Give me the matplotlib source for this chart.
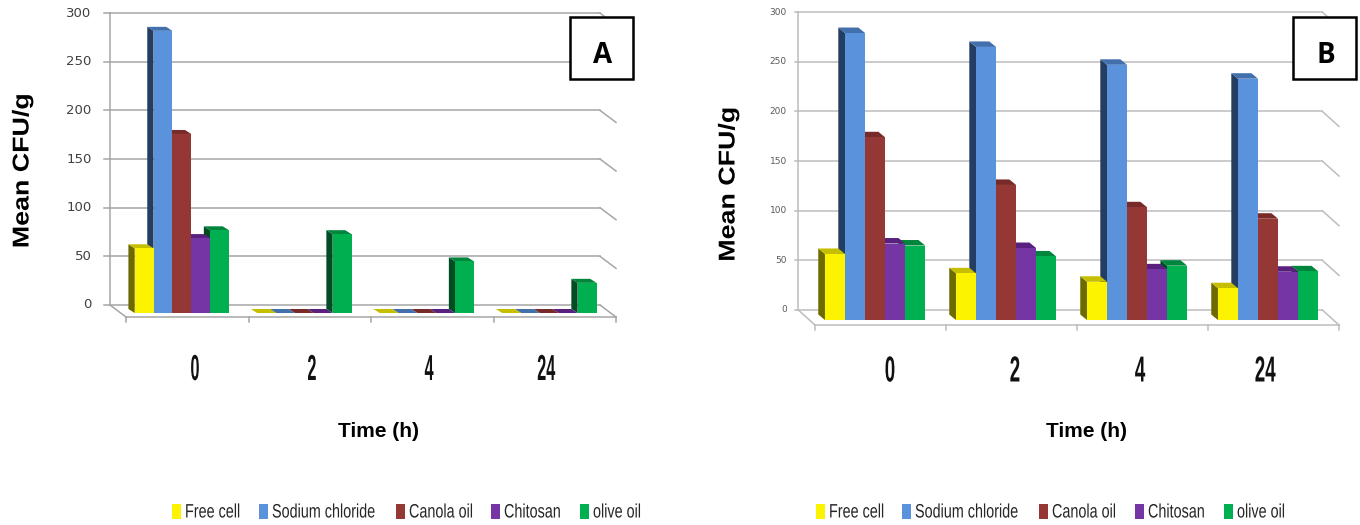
import matplotlib
matplotlib.use('Agg')
import matplotlib.pyplot as plt
from matplotlib.patches import Rectangle
from matplotlib.patheffects import AbstractPathEffect
from matplotlib.transforms import Affine2D, offset_copy

hours = ['0', '2', '4', '24']
series = ['Free cell', 'Sodium chloride', 'Canola oil', 'Chitosan', 'olive oil']
y_ticks = [0, 50, 100, 150, 200, 250, 300]

free_a = [66.5, 0, 0, 0]
sodium_a = [290, 0, 0, 0]
canola_a = [184, 0, 0, 0]
chitosan_a = [77, 0, 0, 0]
olive_a = [85, 81, 53, 31]

free_b = [66.5, 47, 38.5, 32]
sodium_b = [289, 275, 257, 243]
canola_b = [184, 136, 113.5, 102]
chitosan_b = [77, 72.5, 51, 48.6]
olive_b = [75, 64, 54.7, 49]

front_cols = ['#FBF300', '#5A93DB', '#953735', '#7535A5', '#00B050']
side_cols = ['#6E6A00', '#233E62', '#953735', '#7535A5', '#004D23']
top_cols = ['#C6BE00', '#4170AD', '#772A28', '#5A2080', '#00853C']
W, H = 1360, 525

fig = plt.figure(figsize=(W / 100, H / 100), dpi=100)


class Squeeze(AbstractPathEffect):
    # the reference text is condensed, no installed font is that narrow
    def __init__(self, sx, center=False):
        super().__init__()
        self.sx = sx
        self.center = center

    def draw_path(self, renderer, gc, tpath, affine, rgbFace=None):
        cx = tpath.get_extents().x0 + tpath.get_extents().width / 2 if self.center else 0
        t = Affine2D().translate(-cx, 0).scale(self.sx, 1).translate(cx, 0) + affine
        renderer.draw_path(gc, tpath, t, rgbFace)


def make_panel(data, left, right, base, scale, wall_dx, wall_dy, floor_dy, depth,
               margin, bar_w, tick_size, tick_col, grid_col, tick_len, lab_gap, letter, box_x,
               ylab_x, ylab_y, xlab_x, xtick_x, xtick_step, xtick_y, xtick_sx, key_x):
    # axes runs over the front plane of the bars, value 0 sits on the bar base
    top = base - scale * 320
    ax = fig.add_axes([left / W, 1 - base / H, (right - left) / W, (base - top) / H])
    ax.set_xlim(0, 4)
    ax.set_ylim(0, 320)
    ax.axis('off')
    group_px = (right - left) / 4
    ddx = depth[0] / group_px
    ddy = depth[1] / scale
    wall = offset_copy(ax.transData, fig, x=wall_dx, y=wall_dy, units='dots')
    floor = offset_copy(ax.transData, fig, x=0, y=-floor_dy, units='dots')
    lab_tr = offset_copy(ax.transData, fig, x=wall_dx - lab_gap, y=wall_dy, units='dots')
    line = dict(color=grid_col, lw=1.1, clip_on=False, zorder=1)

    for v in y_ticks:
        ax.plot([0, 4], [v, v], transform=wall, **line)
        d = (wall_dy + floor_dy) / scale
        # short slanted piece of the side wall
        ax.plot([4 + wall_dx / group_px, 4],
                [v + wall_dy / scale, v + wall_dy / scale - d], **line)
        ax.plot([0, -tick_len / group_px], [v, v], transform=wall, **line)
        ax.text(0, v, str(v), transform=lab_tr, ha='right', va='center',
                fontsize=tick_size, color=tick_col)
    ax.plot([0, 0], [0, 300], transform=wall, **line)
    ax.plot([wall_dx / group_px, 0], [wall_dy / scale, -floor_dy / scale], **line)
    ax.plot([0, 4], [0, 0], transform=floor, **line)
    for i in range(5):
        ax.plot([i, i], [-floor_dy / scale, -(floor_dy + 5) / scale], **line)

    for g in range(4):
        # right to left, the left bar has to cover the side of its neighbour
        for s in range(4, -1, -1):
            x0 = g + margin + s * bar_w
            v = data[s][g]
            z = 2 + g + (4 - s) * 0.1
            ax.fill([x0, x0 - ddx, x0 - ddx, x0], [0, ddy, v + ddy, v],
                    color=side_cols[s], lw=0, zorder=z, clip_on=False)
            ax.fill([x0, x0 + bar_w, x0 + bar_w - ddx, x0 - ddx], [v, v, v + ddy, v + ddy],
                    color=top_cols[s], lw=0, zorder=z, clip_on=False)
            if v > 0:
                ax.bar(x0, v, bar_w, align='edge', color=front_cols[s], lw=0, zorder=z + 0.01)

    t = fig.text(ylab_x / W, 1 - ylab_y / H, 'Mean CFU/g', rotation=90, ha='center', va='center',
                 fontsize=16.5, fontweight='bold', family='Liberation Sans')
    t.set_path_effects([Squeeze(1.17, center=True)])
    fig.text(xlab_x / W, 1 - 431.5 / H, 'Time (h)', ha='center', va='center', fontsize=15,
             fontweight='bold', family='Liberation Sans')
    for i, h in enumerate(hours):
        t = fig.text((xtick_x + i * xtick_step) / W, 1 - xtick_y / H, h, ha='center', va='center',
                     fontsize=26, fontweight='bold', family='Liberation Sans', color='#111111')
        t.set_path_effects([Squeeze(xtick_sx, center=True)])

    fig.add_artist(Rectangle((box_x / W, 1 - 79 / H), 63 / W, 62 / H, transform=fig.transFigure,
                             facecolor='white', edgecolor='black', lw=1.8, zorder=20))
    fig.text((box_x + 32.7) / W, 1 - 55.5 / H, letter, ha='center', va='center', fontsize=20,
             fontweight='bold', family='Open Sans', zorder=21)

    for k, name in enumerate(series):
        fig.add_artist(Rectangle((key_x[k] / W, 1 - 519 / H), 9 / W, 15 / H, transform=fig.transFigure,
                                 facecolor=front_cols[k], edgecolor='none'))
        t = fig.text((key_x[k] + 13) / W, 1 - 513 / H, name, ha='left', va='center', fontsize=14,
                     family='Liberation Sans', color='#262626')
        t.set_path_effects([Squeeze(0.74)])


make_panel([free_a, sodium_a, canola_a, chitosan_a, olive_a], 126, 616, 313, 0.973, -16, 8, 4, (6.3, 4),
           0.071, 0.154, 9.5, '#404040', '#A6A6A6', 6, 18.5, 'A', 570, 22, 171, 378.3, 195, 117, 370.5, 0.45,
           [172, 259, 396, 491, 580])
make_panel([free_b, sodium_b, canola_b, chitosan_b, olive_b], 815, 1339, 320, 0.993, -16.7, 10, 5, (6.7, 5.5),
           0.076, 0.153, 6.5, '#595959', '#BDBDBD', 3.5, 11.5, 'B', 1293, 728, 184.5, 1086.7, 890, 125, 372, 0.52,
           [816, 902, 1039, 1135, 1224])

fig.savefig('out.png', dpi=100)
